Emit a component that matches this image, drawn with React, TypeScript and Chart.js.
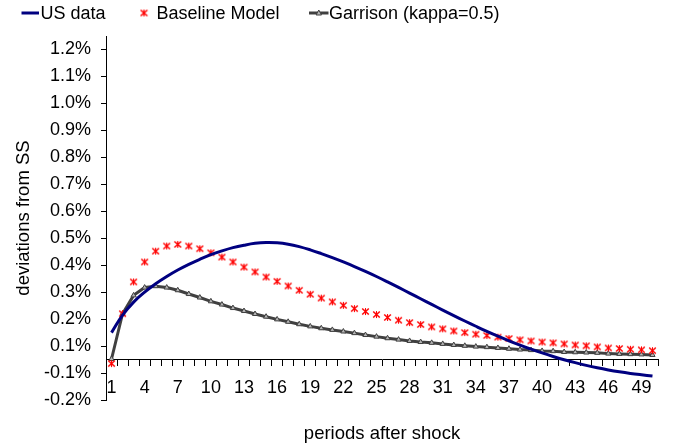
import React, { useEffect, useRef } from "react";
import { Chart, registerables } from "chart.js";

Chart.register(...registerables);

const periods = [
  "1","2","3","4","5","6","7","8","9","10",
  "11","12","13","14","15","16","17","18","19","20",
  "21","22","23","24","25","26","27","28","29","30",
  "31","32","33","34","35","36","37","38","39","40",
  "41","42","43","44","45","46","47","48","49","50",
];

// values in percent deviation from steady state
const usData = [
  0.100, 0.165, 0.213, 0.250, 0.281, 0.308, 0.332, 0.353, 0.372, 0.389,
  0.403, 0.415, 0.424, 0.431, 0.434, 0.433, 0.428, 0.419, 0.407, 0.393,
  0.378, 0.362, 0.345, 0.327, 0.308, 0.288, 0.2675, 0.2465, 0.2255, 0.2045,
  0.1835, 0.163, 0.143, 0.1235, 0.1045, 0.0865, 0.0695, 0.0535, 0.0385, 0.0245,
  0.0115, -0.0005, -0.0115, -0.0215, -0.0305, -0.0385, -0.0455, -0.0515, -0.0565, -0.061,
];

const baselineModel = [
  -0.015, 0.170, 0.288, 0.362, 0.402, 0.421, 0.427, 0.421, 0.411, 0.396,
  0.380, 0.362, 0.343, 0.325, 0.306, 0.290, 0.273, 0.257, 0.242, 0.228,
  0.214, 0.201, 0.189, 0.178, 0.167, 0.156, 0.146, 0.137, 0.130, 0.121,
  0.114, 0.106, 0.100, 0.094, 0.089, 0.083, 0.078, 0.073, 0.069, 0.065,
  0.062, 0.058, 0.054, 0.051, 0.047, 0.043, 0.041, 0.038, 0.036, 0.033,
];

const garrison = [
  0.002, 0.170, 0.238, 0.267, 0.272, 0.267, 0.257, 0.243, 0.230, 0.216,
  0.204, 0.191, 0.180, 0.169, 0.159, 0.149, 0.140, 0.131, 0.123, 0.116,
  0.110, 0.104, 0.098, 0.091, 0.085, 0.079, 0.074, 0.069, 0.065, 0.062,
  0.058, 0.054, 0.051, 0.048, 0.046, 0.043, 0.040, 0.037, 0.035, 0.032,
  0.031, 0.028, 0.027, 0.026, 0.025, 0.022, 0.021, 0.020, 0.019, 0.017,
];

const yTickValues = [-0.15, -0.05, 0.05, 0.15, 0.25, 0.35, 0.45, 0.55, 0.65, 0.75, 0.85, 0.95, 1.05, 1.15];
const yTickLabels = ["-0.2%", "-0.1%", "0.1%", "0.2%", "0.3%", "0.4%", "0.5%", "0.6%", "0.7%", "0.8%", "0.9%", "1.0%", "1.1%", "1.2%"];

const FONT = '"Liberation Sans", Arial, sans-serif';

function makeStarMarker(color: string) {
  const c = document.createElement("canvas");
  c.width = 9;
  c.height = 9;
  const g = c.getContext("2d")!;
  g.strokeStyle = color;
  g.lineWidth = 1.6;
  g.beginPath();
  g.moveTo(1.2, 1.5);
  g.lineTo(7.8, 7.5);
  g.moveTo(7.8, 1.5);
  g.lineTo(1.2, 7.5);
  g.stroke();
  g.lineWidth = 1;
  g.beginPath();
  g.moveTo(4.5, 1);
  g.lineTo(4.5, 8);
  g.stroke();
  return c;
}

const legendPlugin = {
  id: "customLegend",
  afterDraw(chart: any) {
    const ctx = chart.ctx as CanvasRenderingContext2D;
    const ds = chart.data.datasets;
    const cy = 13;
    ctx.save();
    ctx.font = `18px ${FONT}`;
    ctx.textBaseline = "middle";
    ctx.textAlign = "left";
    // item 1: line
    ctx.strokeStyle = ds[0].borderColor;
    ctx.lineWidth = 3;
    ctx.beginPath();
    ctx.moveTo(21.5, cy);
    ctx.lineTo(39, cy);
    ctx.stroke();
    ctx.fillStyle = "#000";
    ctx.fillText(ds[0].label, 40.5, cy + 1);
    // item 2: marker
    const m = ds[1].pointStyle as HTMLCanvasElement;
    ctx.drawImage(m, 144 - m.width / 2, cy - m.height / 2);
    ctx.fillStyle = "#000";
    ctx.fillText(ds[1].label, 156.5, cy + 1);
    // item 3: line + marker
    ctx.strokeStyle = ds[2].borderColor;
    ctx.lineWidth = 3;
    ctx.beginPath();
    ctx.moveTo(309, cy);
    ctx.lineTo(328.5, cy);
    ctx.stroke();
    ctx.fillStyle = ds[2].pointBackgroundColor;
    ctx.strokeStyle = ds[2].pointBorderColor;
    ctx.lineWidth = 1;
    ctx.beginPath();
    ctx.moveTo(318.8, cy - 3);
    ctx.lineTo(321.5, cy + 2);
    ctx.lineTo(316.1, cy + 2);
    ctx.closePath();
    ctx.fill();
    ctx.stroke();
    ctx.fillStyle = "#000";
    ctx.fillText(ds[2].label, 329, cy + 1);
    ctx.restore();
  },
};

export default function App() {
  const ref = useRef<HTMLCanvasElement>(null);

  useEffect(() => {
    document.body.style.margin = "0";
    const canvas = ref.current!;
    const star = makeStarMarker("#ff0000");
    const chart = new Chart(canvas, {
      type: "line",
      data: {
        labels: periods,
        datasets: [
          {
            label: "US data",
            data: usData,
            borderColor: "#000080",
            backgroundColor: "#000080",
            borderWidth: 3,
            pointRadius: 0,
            tension: 0.4,
            fill: false,
          },
          {
            label: "Baseline Model",
            data: baselineModel,
            showLine: false,
            pointStyle: star,
            pointRadius: 4.5,
            borderColor: "#ff0000",
            backgroundColor: "#ff0000",
          },
          {
            label: "Garrison (kappa=0.5)",
            data: garrison,
            borderColor: "#404040",
            backgroundColor: "#404040",
            borderWidth: 3,
            tension: 0,
            pointStyle: "triangle",
            pointRadius: 3,
            pointBackgroundColor: "#b4b4b4",
            pointBorderColor: "#404040",
            pointBorderWidth: 1,
          },
        ] as any,
      },
      options: {
        responsive: false,
        animation: false,
        devicePixelRatio: 1,
        layout: { padding: { top: 36, right: 17, bottom: 48, left: 0 } },
        font: { family: FONT, size: 18 },
        plugins: {
          legend: { display: false },
          tooltip: { enabled: false },
        },
        scales: {
          x: {
            type: "category",
            position: { y: 0 } as any,
            offset: true,
            grid: {
              display: true,
              drawOnChartArea: false,
              drawTicks: true,
              tickLength: 6,
              offset: true,
              color: "#000",
              tickColor: "#000",
            },
            border: { display: true, color: "#000", width: 1 },
            ticks: {
              autoSkip: false,
              maxRotation: 0,
              minRotation: 0,
              padding: 12,
              color: "#000",
              font: { family: FONT, size: 18 },
              callback: (_v: any, i: number) => (i % 3 === 0 ? periods[i] : ""),
            },
            title: {
              display: true,
              text: "periods after shock",
              color: "#000",
              font: { family: FONT, size: 18.5 },
              padding: { top: 12, bottom: 0 },
            },
          },
          y: {
            type: "linear",
            min: -0.15,
            max: 1.2,
            afterBuildTicks: (scale: any) => {
              scale.ticks = yTickValues.map((v) => ({ value: v }));
            },
            afterFit: (scale: any) => {
              scale.width = 106;
            },
            grid: {
              drawOnChartArea: false,
              drawTicks: true,
              tickLength: 5,
              color: "#000",
              tickColor: "#000",
            },
            border: { display: true, color: "#000", width: 1 },
            ticks: {
              padding: 10,
              color: "#000",
              font: { family: FONT, size: 18 },
              callback: (_v: any, i: number) => yTickLabels[i],
            },
            title: {
              display: true,
              text: "deviations from SS",
              color: "#000",
              font: { family: FONT, size: 18.5 },
              padding: { top: 13, bottom: 0 },
            },
          },
        },
      } as any,
      plugins: [legendPlugin],
    });
    return () => chart.destroy();
  }, []);

  return (
    <div style={{ width: 675, height: 448, background: "#fff" }}>
      <canvas ref={ref} width={675} height={448} />
    </div>
  );
}
